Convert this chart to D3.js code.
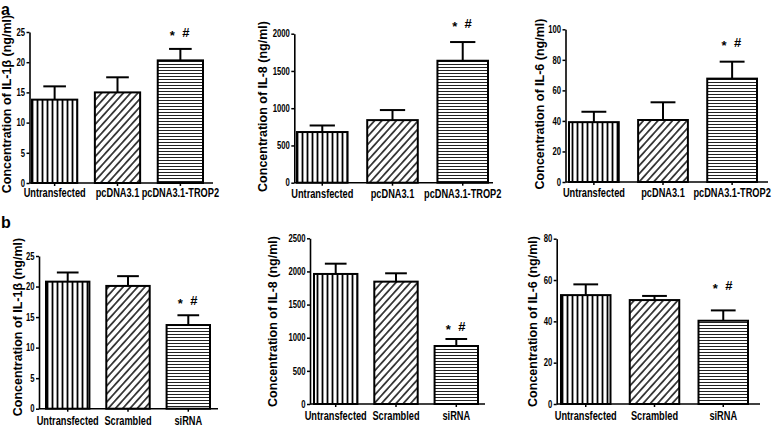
<!DOCTYPE html>
<html><head><meta charset="utf-8">
<script src="https://cdn.jsdelivr.net/npm/d3@7"></script>
<style>
html,body{margin:0;padding:0;background:#fff;}
svg{display:block;font-family:"Liberation Sans",Arial,Helvetica,sans-serif;font-weight:bold;}
</style></head><body>
<svg id="chart" width="779" height="426"></svg>
<script>
// ---------- data ----------
const categoriesA = ["Untransfected", "pcDNA3.1", "pcDNA3.1-TROP2"];
const categoriesB = ["Untransfected", "Scrambled", "siRNA"];

const il1bA = [13.8, 15.0, 20.3];
const il1bAErr = [2.2, 2.5, 1.9];
const il8A = [680, 840, 1637];
const il8AErr = [88, 135, 251];
const il6A = [39.2, 40.6, 67.7];
const il6AErr = [6.8, 11.6, 11.1];

const il1bB = [20.8, 20.1, 13.7];
const il1bBErr = [1.5, 1.6, 1.6];
const il8B = [1962, 1846, 875];
const il8BErr = [155, 126, 106];
const il6B = [52.7, 50.3, 40.3];
const il6BErr = [5.2, 2.0, 5.0];

const yMaxes = [25, 2000, 100, 25, 2500, 80];
const yTickSteps = [5, 500, 20, 5, 500, 20];
const yLabels = [
  "Concentration of IL-1β (ng/ml)",
  "Concentration of IL-8 (ng/ml)",
  "Concentration of IL-6 (ng/ml)",
  "Concentration of IL-1β (ng/ml)",
  "Concentration of IL-8 (ng/ml)",
  "Concentration of IL-6 (ng/ml)"
];
const sigMarks = ["*", "#"];
const sigLevels = [24.2, 2083, 88.1, 16.9, 1094, 55.4];
const panelLetters = ["a", "b"];

// ---------- layout (pixels) ----------
const layout = [
  {axisX: 29.5, xEnd: 213, y0: 183,   yTop: 32,    barL: 32,  barR: 203, labelX: 10.7, labelY: 104,  catDy: 14},
  {axisX: 294.3,xEnd: 493, y0: 182.7, yTop: 33.7,  barL: 297, barR: 488, labelX: 267,  labelY: 106.5,catDy: 15.5},
  {axisX: 565.5,xEnd: 768, y0: 182,   yTop: 29.3,  barL: 569, barR: 757, labelX: 544,  labelY: 104,  catDy: 14.7},
  {axisX: 39,   xEnd: 218, y0: 408.7, yTop: 256,   barL: 46,  barR: 210, labelX: 22.3, labelY: 327,  catDy: 16.5},
  {axisX: 310,  xEnd: 485, y0: 404,   yTop: 238.3, barL: 314, barR: 478, labelX: 277,  labelY: 321.5,catDy: 16.5},
  {axisX: 556.7,xEnd: 760, y0: 404,   yTop: 238.7, barL: 561, barR: 748, labelX: 537,  labelY: 321.5,catDy: 16.5}
];

const panelValues = [il1bA, il8A, il6A, il1bB, il8B, il6B];
const panelErrs = [il1bAErr, il8AErr, il6AErr, il1bBErr, il8BErr, il6BErr];
const panelCats = [categoriesA, categoriesA, categoriesA, categoriesB, categoriesB, categoriesB];

const svg = d3.select("#chart");
const FONT = '"Liberation Sans", Arial, Helvetica, sans-serif';
const SX = 0.77; // horizontal condensing of text

// ---------- patterns ----------
const defs = svg.append("defs");
const pv = defs.append("pattern").attr("id", "pVert").attr("patternUnits", "userSpaceOnUse")
  .attr("width", 5).attr("height", 10);
pv.append("rect").attr("width", 5).attr("height", 10).attr("fill", "#fff");
pv.append("line").attr("x1", 2.5).attr("x2", 2.5).attr("y1", 0).attr("y2", 10)
  .attr("stroke", "#000").attr("stroke-width", 1.8);

const pd = defs.append("pattern").attr("id", "pDiag").attr("patternUnits", "userSpaceOnUse")
  .attr("width", 5.4).attr("height", 10).attr("patternTransform", "rotate(42)");
pd.append("rect").attr("width", 5.4).attr("height", 10).attr("fill", "#fff");
pd.append("line").attr("x1", 2.7).attr("x2", 2.7).attr("y1", 0).attr("y2", 10)
  .attr("stroke", "#000").attr("stroke-width", 1.4);

const ph = defs.append("pattern").attr("id", "pHorz").attr("patternUnits", "userSpaceOnUse")
  .attr("width", 10).attr("height", 3);
ph.append("rect").attr("width", 10).attr("height", 3).attr("fill", "#fff");
ph.append("line").attr("x1", 0).attr("x2", 10).attr("y1", 1.5).attr("y2", 1.5)
  .attr("stroke", "#222").attr("stroke-width", 1);

const patternIds = ["pVert", "pDiag", "pHorz"];

// ---------- panels ----------
layout.forEach((L, pi) => {
  const cats = panelCats[pi];
  const vals = panelValues[pi];
  const errs = panelErrs[pi];
  const g = svg.append("g");

  const y = d3.scaleLinear().domain([0, yMaxes[pi]]).range([L.y0, L.yTop]);
  const x = d3.scaleBand().domain(cats).range([L.barL, L.barR]).paddingInner(0.28).paddingOuter(0);
  const bw = x.bandwidth();

  const rows = cats.map((c, i) => ({c, v: vals[i], e: errs[i], i}));

  // error bars
  const eb = g.append("g").attr("stroke", "#000").attr("stroke-width", 2);
  eb.selectAll("line.v").data(rows).join("line").attr("class", "v")
    .attr("x1", d => x(d.c) + bw / 2).attr("x2", d => x(d.c) + bw / 2)
    .attr("y1", d => y(d.v)).attr("y2", d => y(d.v + d.e));
  eb.selectAll("line.c").data(rows).join("line").attr("class", "c")
    .attr("x1", d => x(d.c) + bw / 2 - bw * 0.25).attr("x2", d => x(d.c) + bw / 2 + bw * 0.25)
    .attr("y1", d => y(d.v + d.e)).attr("y2", d => y(d.v + d.e));

  // bars
  g.selectAll("rect.bar").data(rows).join("rect").attr("class", "bar")
    .attr("x", d => x(d.c)).attr("y", d => y(d.v))
    .attr("width", bw).attr("height", d => L.y0 - y(d.v))
    .attr("fill", d => `url(#${patternIds[d.i]})`)
    .attr("stroke", "#000").attr("stroke-width", 2);

  // y axis
  const ticks = d3.range(0, yMaxes[pi] + yTickSteps[pi] / 2, yTickSteps[pi]);
  const ya = g.append("g").attr("transform", `translate(${L.axisX},0)`)
    .call(d3.axisLeft(y).tickValues(ticks).tickFormat(d3.format("d")).tickSize(3).tickSizeOuter(0).tickPadding(1))
    .attr("font-family", FONT).attr("font-size", 10).attr("font-weight", "bold");
  ya.select(".domain").attr("stroke-width", 1.6);
  ya.selectAll(".tick line").attr("stroke-width", 1.5);
  ya.selectAll(".tick text").attr("x", -4.5 / SX).attr("transform", `scale(${SX},1)`).attr("fill", "#000");

  // x axis
  const xa = g.append("g").attr("transform", `translate(0,${L.y0})`)
    .call(d3.axisBottom(x).tickSize(3).tickSizeOuter(0))
    .attr("font-family", FONT).attr("font-size", 12).attr("font-weight", "bold");
  xa.select(".domain").remove();
  xa.selectAll(".tick line").attr("stroke-width", 1.5);
  xa.selectAll(".tick text").attr("y", L.catDy).attr("dy", 0)
    .attr("transform", `scale(${SX},1)`).attr("fill", "#000");
  g.append("line").attr("x1", L.axisX).attr("x2", L.xEnd).attr("y1", L.y0).attr("y2", L.y0)
    .attr("stroke", "#000").attr("stroke-width", 1.6);

  // y label
  g.append("text")
    .attr("transform", `translate(${L.labelX},${L.labelY}) rotate(-90)`)
    .attr("text-anchor", "middle").attr("font-size", 12.5).attr("font-weight", "bold")
    .attr("fill", "#000").text(yLabels[pi]);

  // significance marks above bar 3
  const cx = x(cats[2]) + bw / 2;
  const sg = g.append("g").attr("font-size", 13).attr("font-weight", "bold").attr("fill", "#000");
  sg.selectAll("text").data(sigMarks).join("text")
    .attr("x", (d, k) => cx + (k === 0 ? -8 : 5.5))
    .attr("y", (d, k) => y(sigLevels[pi]) + (k === 0 ? 3 : 0))
    .attr("text-anchor", "middle")
    .text(d => d);
});

// panel letters
svg.selectAll("text.letter").data(panelLetters).join("text").attr("class", "letter")
  .attr("x", 1).attr("y", (d, i) => i === 0 ? 14.5 : 228)
  .attr("font-size", 16).attr("font-weight", "bold").attr("fill", "#000")
  .text(d => d);
</script>
</body></html>
